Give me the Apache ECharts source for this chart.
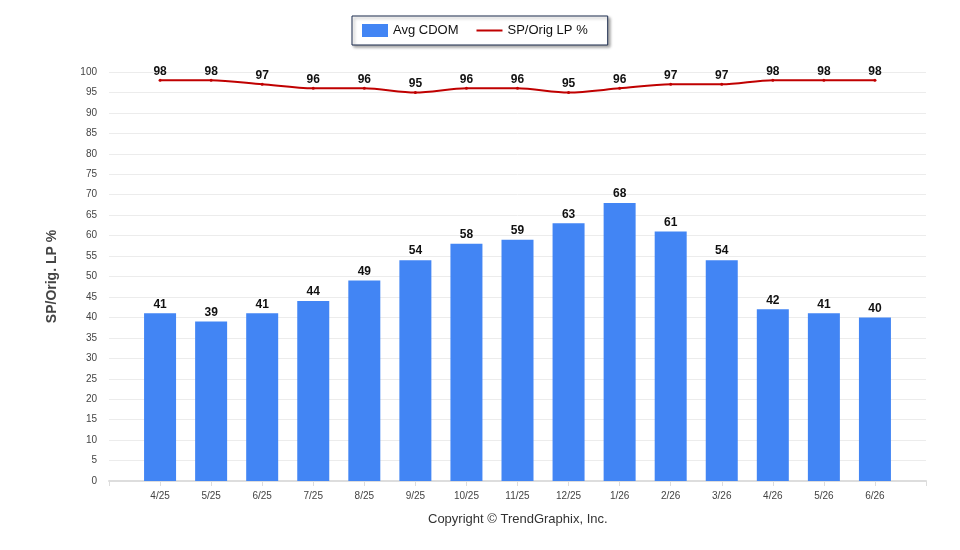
<!DOCTYPE html>
<html>
<head>
<meta charset="utf-8">
<script src="https://cdn.jsdelivr.net/npm/echarts@6/dist/echarts.min.js"></script>
<style>html,body{margin:0;padding:0;background:#fff;}#c{width:960px;height:550px;}</style>
</head>
<body>
<div id="c"></div>
<script>
const categories = ['4/25','5/25','6/25','7/25','8/25','9/25','10/25','11/25','12/25','1/26','2/26','3/26','4/26','5/26','6/26'];
const avgCdom = [41,39,41,44,49,54,58,59,63,68,61,54,42,41,40];
const spOrigLp = [98,98,97,96,96,95,96,96,95,96,97,97,98,98,98];
const yTicks = {min: 0, max: 100, interval: 5};

const axisCats = [''].concat(categories, ['']);
const padData = arr => [null].concat(arr, [null]);

const chart = echarts.init(document.getElementById('c'));
const FONT = 'Arial, "Liberation Sans", sans-serif';
chart.setOption({
  animation: false,
  textStyle: {fontFamily: FONT},
  legend: {
    top: 16, left: 352,
    padding: [8, 20, 8, 10],
    itemGap: 18,
    itemWidth: 26, itemHeight: 13,
    borderColor: '#1d2d4f', borderWidth: 1,
    backgroundColor: '#fff',
    shadowColor: 'rgba(0,0,0,0.35)', shadowBlur: 3, shadowOffsetX: 2, shadowOffsetY: 2,
    textStyle: {fontSize: 13, color: '#111', fontFamily: FONT},
    data: [
      {name: 'Avg CDOM', icon: 'rect'},
      {name: 'SP/Orig LP %', icon: 'path://M0,0L0.01,0L0.01,0.01Z M0,5.5L26,5.5L26,7.5L0,7.5Z M0,13L0.01,13L0.01,12.99Z'}
    ]
  },
  grid: {left: 109, right: 34, top: 72, bottom: 69},
  xAxis: {
    type: 'category',
    data: axisCats,
    boundaryGap: false,
    axisLine: {lineStyle: {color: '#dddddd', width: 2}},
    axisTick: {show: true, length: 5, lineStyle: {color: '#dddddd'}},
    axisLabel: {fontSize: 10, color: '#444', margin: 10, fontFamily: FONT},
    splitLine: {show: false}
  },
  yAxis: {
    type: 'value',
    min: yTicks.min, max: yTicks.max, interval: yTicks.interval,
    name: 'SP/Orig. LP %',
    nameLocation: 'middle', nameRotate: 90, nameGap: 50,
    nameTextStyle: {fontSize: 14, fontWeight: 'bold', color: '#444', fontFamily: FONT},
    axisLine: {show: false},
    axisTick: {show: false},
    axisLabel: {fontSize: 10, color: '#444', margin: 12, fontFamily: FONT},
    splitLine: {lineStyle: {color: '#ececec', width: 1}}
  },
  series: [
    {
      name: 'Avg CDOM',
      type: 'bar',
      data: padData(avgCdom),
      barWidth: 32,
      itemStyle: {color: '#4285f4'},
      label: {show: true, position: 'top', distance: 3, fontSize: 12, fontWeight: 'bold', color: '#111', fontFamily: FONT}
    },
    {
      name: 'SP/Orig LP %',
      type: 'line',
      data: padData(spOrigLp),
      smooth: 0.3,
      symbol: 'circle', symbolSize: 3,
      lineStyle: {color: '#c00000', width: 2},
      itemStyle: {color: '#c00000'},
      label: {show: true, position: 'top', distance: 1, fontSize: 12, fontWeight: 'bold', color: '#111', fontFamily: FONT},
      z: 5
    }
  ],
  graphic: [{
    type: 'text', left: 428, top: 513,
    style: {text: 'Copyright © TrendGraphix, Inc.', fontSize: 13, fill: '#333', fontFamily: FONT}
  }]
});
</script>
</body>
</html>
